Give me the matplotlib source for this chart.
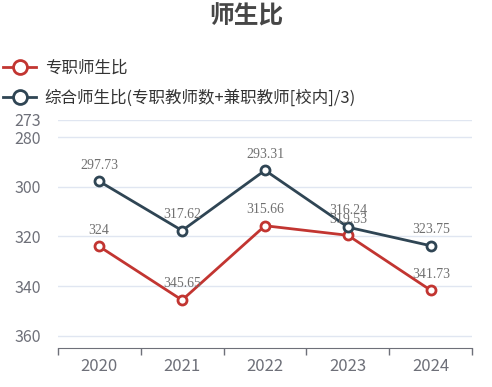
import numpy as np
import matplotlib
matplotlib.use("Agg")
import matplotlib.pyplot as plt
from matplotlib.lines import Line2D

plt.rcParams['font.family'] = ['Noto Sans CJK SC', 'DejaVu Sans']

years = ['2020', '2021', '2022', '2023', '2024']
fulltime_ratio = [324, 345.65, 315.66, 319.53, 341.73]
combined_ratio = [297.73, 317.62, 293.31, 316.24, 323.75]
series_names = ['专职师生比', '综合师生比(专职教师数+兼职教师[校内]/3)']
yticks = [273, 280, 300, 320, 340, 360]

red = '#c23531'
navy = '#2f4554'
axis_gray = '#6e7079'

fig = plt.figure(figsize=(4.92, 3.87), dpi=100)
ax = fig.add_axes([0.1173, 0.1, 0.8427, 0.59])

x = np.arange(len(years))
for vals, col in [(fulltime_ratio, red), (combined_ratio, navy)]:
    ax.plot(x, vals, color=col, lw=2, marker='o', ms=6.5, mfc='white',
            mec=col, mew=2, zorder=3, clip_on=False)
    for xi, v in zip(x, vals):
        ax.annotate(f'{v:g}', (xi, v), xytext=(0, 7), textcoords='offset points',
                    ha='center', va='bottom', fontsize=10, color='#707070',
                    family='Liberation Serif', zorder=4)

ax.set_xlim(-0.5, len(years) - 0.5)
ax.set_ylim(365.1, 273)
ax.set_yticks(yticks)
ax.set_yticklabels([str(t) for t in yticks])
ax.yaxis.grid(True, color='#e0e6f1', lw=1)
ax.set_axisbelow(True)
ax.tick_params(axis='y', length=0, pad=12, labelsize=11.5, labelcolor=axis_gray)

ax.set_xticks(x)
ax.set_xticklabels(years)
ax.set_xticks(np.arange(-0.5, len(years)), minor=True)
ax.tick_params(axis='x', which='major', length=0, pad=7, labelsize=12,
               labelcolor=axis_gray)
ax.tick_params(axis='x', which='minor', length=5, width=1, color=axis_gray)

for s in ['top', 'right', 'left']:
    ax.spines[s].set_visible(False)
ax.spines['bottom'].set_color(axis_gray)

fig.text(0.5, 1 - 17 / 387, '师生比', ha='center', va='center', fontsize=17.8,
         fontweight='bold', color='#464646')

handles = [Line2D([], [], color=c, lw=2, marker='o', ms=10, mfc='white', mec=c, mew=2)
           for c in [red, navy]]
fig.legend(handles, series_names, loc='upper left', bbox_to_anchor=(0.0, 1 - 56 / 387),
           frameon=False, fontsize=11.9, labelcolor='#333333', handlelength=2.0,
           handletextpad=0.5, labelspacing=0.78, borderaxespad=0, borderpad=0.2)

fig.savefig('out.png', dpi=100)
